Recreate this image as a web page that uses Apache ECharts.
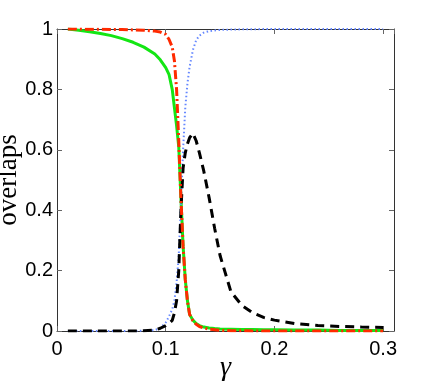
<!DOCTYPE html>
<html>
<head>
<meta charset="utf-8">
<script src="https://cdn.jsdelivr.net/npm/echarts@6/dist/echarts.min.js"></script>
<style>
html, body { margin: 0; padding: 0; background: #fff; }
#chart { width: 436px; height: 382px; }
</style>
</head>
<body>
<div id="chart"></div>
<script>
// gamma grid (denser around the transition)
var gamma = [0.01, 0.02, 0.03, 0.04, 0.05, 0.06, 0.07, 0.08, 0.09, 0.095,
             0.1, 0.103, 0.106, 0.108, 0.11, 0.112, 0.114, 0.116, 0.118, 0.12,
             0.122, 0.125, 0.128, 0.131, 0.135, 0.14, 0.145, 0.15, 0.16, 0.17,
             0.18, 0.19, 0.2, 0.22, 0.24, 0.26, 0.28, 0.3];

var greenVals = [1.0, 0.996, 0.991, 0.985, 0.978, 0.968, 0.956, 0.94, 0.917, 0.898,
                 0.872, 0.85, 0.80, 0.74, 0.68, 0.61, 0.44, 0.28, 0.17, 0.10,
                 0.055, 0.036, 0.025, 0.018, 0.013, 0.01, 0.008, 0.007, 0.006, 0.005,
                 0.005, 0.004, 0.004, 0.003, 0.003, 0.002, 0.002, 0.002];

var redVals = [1.0, 1.0, 0.999, 0.999, 0.998, 0.998, 0.997, 0.996, 0.993, 0.99,
               0.982, 0.966, 0.94, 0.895, 0.80, 0.63, 0.44, 0.28, 0.17, 0.10,
               0.055, 0.034, 0.022, 0.015, 0.01, 0.006, 0.004, 0.002, 0.001, 0.001,
               0.0, 0.0, 0.0, 0.0, 0.0, 0.0, 0.0, 0.0];

var blueVals = [0.0, 0.0, 0.0, 0.0, 0.0, 0.0, 0.0, 0.001, 0.003, 0.01,
                0.028, 0.048, 0.072, 0.1, 0.16, 0.25, 0.42, 0.6, 0.74, 0.82,
                0.875, 0.93, 0.963, 0.978, 0.988, 0.993, 0.995, 0.997, 0.998, 0.999,
                0.999, 1.0, 1.0, 1.0, 1.0, 1.0, 1.0, 1.0];

var blackVals = [0.0, 0.0, 0.0, 0.0, 0.0, 0.0, 0.0, 0.001, 0.003, 0.009,
                 0.018, 0.025, 0.035, 0.06, 0.10, 0.2, 0.4, 0.54, 0.59, 0.62,
                 0.64, 0.655, 0.63, 0.59, 0.53, 0.44, 0.34, 0.25, 0.13, 0.085,
                 0.06, 0.045, 0.036, 0.024, 0.018, 0.015, 0.013, 0.012];

var yTicks = [0, 0.2, 0.4, 0.6, 0.8, 1];

function pairs(vals) {
    var out = [];
    for (var i = 0; i < gamma.length; i++) out.push([gamma[i], vals[i]]);
    return out;
}

var myChart = echarts.init(document.getElementById('chart'));
var tickFont = { fontFamily: 'Liberation Sans, Arial, sans-serif', fontSize: 20, color: '#000' };
var boxLine = { show: true, onZero: false, lineStyle: { color: '#333', width: 1 } };
var innerTick = { show: true, inside: true, length: 5, lineStyle: { color: '#666' } };

var option = {
    animation: false,
    backgroundColor: '#fff',
    grid: { left: 57, right: 42, top: 29, bottom: 51, containLabel: false, outerBoundsMode: 'none' },
    xAxis: [{
        type: 'value', min: 0, max: 0.31, interval: 0.1,
        name: 'γ', nameLocation: 'middle', nameGap: 23, nameMoveOverlap: false,
        nameTextStyle: { fontFamily: 'Liberation Serif, serif', fontStyle: 'italic', fontSize: 28, color: '#000' },
        axisLine: boxLine, axisTick: innerTick,
        axisLabel: Object.assign({ margin: 8, showMaxLabel: false }, tickFont),
        splitLine: { show: false }
    }, {
        type: 'value', position: 'top', min: 0, max: 0.31, interval: 0.1,
        axisLine: boxLine, axisTick: innerTick, axisLabel: { show: false }, splitLine: { show: false }
    }],
    yAxis: [{
        type: 'value', min: yTicks[0], max: yTicks[yTicks.length - 1], interval: 0.2,
        name: 'overlaps', nameLocation: 'middle', nameGap: 35, nameMoveOverlap: false,
        nameTextStyle: { fontFamily: 'Liberation Serif, serif', fontSize: 27, color: '#000' },
        axisLine: boxLine, axisTick: innerTick,
        axisLabel: Object.assign({ margin: 4 }, tickFont),
        splitLine: { show: false }
    }, {
        type: 'value', position: 'right', min: 0, max: 1, interval: 0.2,
        axisLine: boxLine, axisTick: innerTick, axisLabel: { show: false }, splitLine: { show: false }
    }],
    series: [{
        type: 'line', data: pairs(greenVals), showSymbol: false,
        lineStyle: { color: '#14e614', width: 3, type: 'solid' }
    }, {
        type: 'line', data: pairs(blueVals), showSymbol: false,
        lineStyle: { color: '#6688ff', width: 2, type: [1.5, 2.5] }
    }, {
        type: 'line', data: pairs(blackVals), showSymbol: false,
        lineStyle: { color: '#000', width: 3, type: [9, 6] }
    }, {
        type: 'line', data: pairs(redVals), showSymbol: false,
        lineStyle: { color: '#ff2a00', width: 3, type: [9, 3, 2, 3] }
    }]
};
myChart.setOption(option);
</script>
</body>
</html>
